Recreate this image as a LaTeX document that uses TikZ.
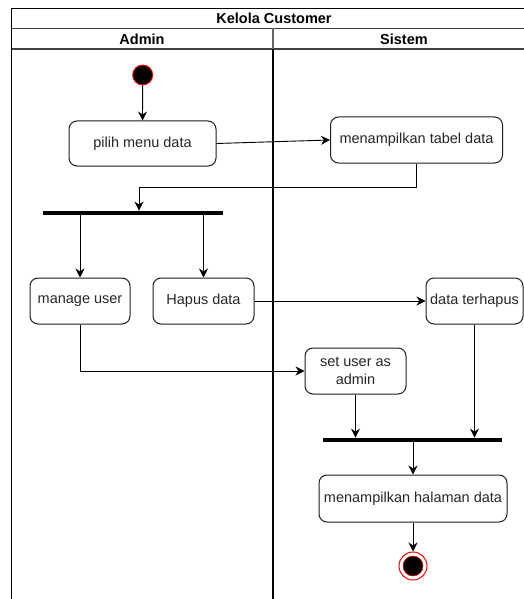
\documentclass[tikz,border=0pt]{standalone}
\usepackage{fontspec}
\setmainfont{Liberation Sans}
\usetikzlibrary{arrows.meta}
\definecolor{txt}{RGB}{38,38,38}
\definecolor{edge}{RGB}{30,30,30}
\tikzset{
  every node/.style={font=\fontsize{14.5}{18}\selectfont, text=txt},
  act/.style={draw=edge, line width=1pt, rounded corners=8pt, fill=white, align=center, inner sep=0pt},
  bar/.style={fill=black, draw=none, minimum height=4.5pt, inner sep=0pt},
  flow/.style={draw=black, line width=0.9pt, -{Stealth[length=9pt, width=9pt, inset=3pt]}},
  wire/.style={draw=black, line width=0.9pt},
  frame/.style={draw=black, line width=1.3pt},
  hdr/.style={font=\bfseries\fontsize{14.5}{18}\selectfont, text=black},
}
\begin{document}
\begin{tikzpicture}[x=1pt, y=-1pt]
\useasboundingbox (0,0) rectangle (524,599);
\fill[white] (0,0) rectangle (524,599);

% pool and lanes
\draw[frame] (524,8.5) -- (11.5,8.5) -- (11.5,599);
\draw[draw=black!75, line width=1.2pt] (11.5,28.5) -- (524,28.5);
\draw[draw=black!75, line width=1.2pt] (11.5,49) -- (524,49);
\draw[draw=black!60, line width=1.2pt] (273,28.5) -- (273,49);
\draw[draw=black, line width=2pt] (273,49) -- (273,599);
\node[hdr] (title) at (274,18) {Kelola Customer};
\node[hdr] (admin) at (142,39) {Admin};
\node[hdr] (sistem) at (404,39) {Sistem};

% activities
\node[circle, fill=black, draw=red, line width=0.9pt, minimum size=20pt, inner sep=0pt] (start) at (142.7,75) {};
\node[act, minimum width=147pt, minimum height=45pt] (pilih) at (142.5,143.5) {pilih menu data};
\node[act, minimum width=172pt, minimum height=46pt] (tabel) at (416.5,140) {menampilkan tabel data};
\node[bar, minimum width=180pt] (fork) at (133,213) {};
\node[act, minimum width=100pt, minimum height=46pt] (manage) at (80,301) {manage user};
\node[act, minimum width=101pt, minimum height=46pt] (hapus) at (203.5,301) {Hapus data};
\node[act, minimum width=97pt, minimum height=46pt] (terhapus) at (474.5,301) {data terhapus};
\node[act, minimum width=101pt, minimum height=46pt] (setadmin) at (355.5,371) {set user as\\admin};
\node[bar, minimum width=179pt] (join) at (412.5,440) {};
\node[act, minimum width=188pt, minimum height=47pt] (halaman) at (413,498.5) {menampilkan halaman data};
\node[circle, draw=red, fill=white, line width=1pt, minimum size=28pt, inner sep=0pt] (final) at (413,566) {};
\node[circle, fill=black, draw=red, line width=0.5pt, minimum size=20pt, inner sep=0pt] (finalcore) at (413,566) {};

% control flow
\coordinate (bend) at (139,187);
\draw[flow] (start) -- (pilih.north);
\draw[flow] (pilih.east) -- (tabel.west);
\draw[wire] (tabel.south) |- (bend);
\draw[flow] (bend) -- (bend |- fork.north);
\draw[flow] (manage.north |- fork.south) -- (manage.north);
\draw[flow] (hapus.north |- fork.south) -- (hapus.north);
\draw[flow] (hapus.east) -- (terhapus.west);
\draw[flow] (manage.south) |- (setadmin.west);
\draw[flow] (setadmin.south) -- (setadmin.south |- join.north);
\draw[flow] (terhapus.south) -- (terhapus.south |- join.north);
\draw[flow] (halaman.north |- join.south) -- (halaman.north);
\draw[flow] (halaman.south) -- (final.north);
\end{tikzpicture}
\end{document}
